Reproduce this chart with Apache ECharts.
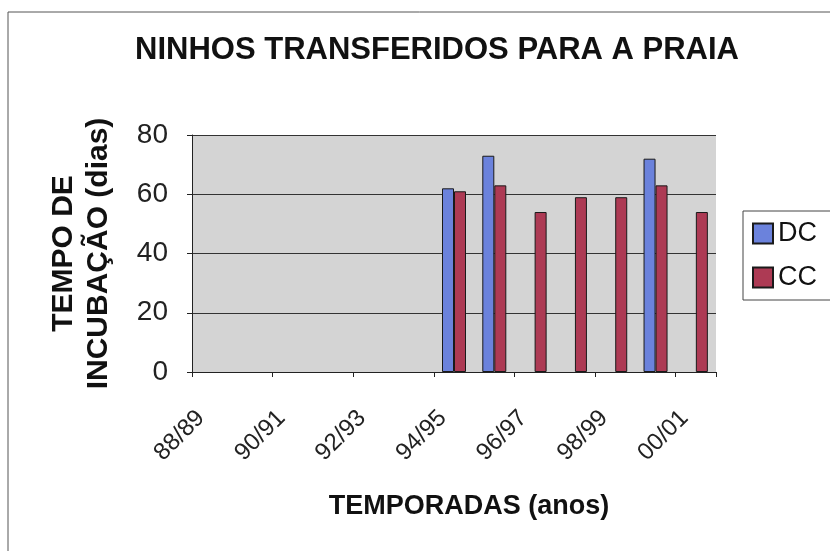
<!DOCTYPE html>
<html>
<head>
<meta charset="utf-8">
<script src="https://cdn.jsdelivr.net/npm/echarts@6/dist/echarts.min.js"></script>
<style>
  html, body { margin: 0; padding: 0; background: #fff; }
  #main { width: 830px; height: 551px; }
</style>
</head>
<body>
<div id="main"></div>
<script>
var chartDom = document.getElementById('main');
var myChart = echarts.init(chartDom);

// seasons (only every other one is labelled on the axis)
const seasons = ['88/89', '89/90', '90/91', '91/92', '92/93', '93/94', '94/95',
  '95/96', '96/97', '97/98', '98/99', '99/00', '00/01'];
const dcValues = [null, null, null, null, null, null, 62, 73, null, null, null, 72, null];
const ccValues = [null, null, null, null, null, null, 61, 63, 54, 59, 59, 63, 54];
const yTicks = [0, 20, 40, 60, 80];

const fontFamily = '"Liberation Sans", Arial, sans-serif';

var option = {
  textStyle: { fontFamily: fontFamily },
  graphic: [
    {
      type: 'rect',
      shape: { x: 8, y: 12, width: 840, height: 560 },
      style: { fill: 'none', stroke: '#555', lineWidth: 1 },
      silent: true
    }
  ],
  title: {
    text: 'NINHOS TRANSFERIDOS PARA A PRAIA',
    left: 432,
    top: 30,
    textAlign: 'center',
    textStyle: { fontSize: 31, fontWeight: 'bold', color: '#111', fontFamily: fontFamily }
  },
  legend: {
    orient: 'vertical',
    left: 743,
    top: 211,
    width: 100,
    padding: [9, 30, 9, 9],
    itemGap: 17,
    itemWidth: 20,
    itemHeight: 20,
    borderColor: '#444',
    borderWidth: 1,
    borderRadius: 0,
    textStyle: { fontSize: 27, color: '#111', fontFamily: fontFamily, padding: [0, 0, 0, 0] },
    data: [
      { name: 'DC', icon: 'rect' },
      { name: 'CC', icon: 'rect' }
    ]
  },
  grid: {
    left: 192,
    right: 830 - 716,
    top: 135,
    bottom: 551 - 372,
    show: true,
    backgroundColor: '#d4d4d4',
    borderWidth: 0
  },
  xAxis: {
    type: 'category',
    data: seasons,
    name: 'TEMPORADAS (anos)',
    nameLocation: 'middle',
    nameGap: 121,
    nameTextStyle: { fontSize: 27, fontWeight: 'bold', color: '#111', padding: [0, 0, 0, 30] },
    axisLine: { lineStyle: { color: '#222', width: 1 } },
    axisTick: { show: true, length: 5, lineStyle: { color: '#222' } },
    axisLabel: {
      interval: 1,
      rotate: 45,
      fontSize: 24,
      color: '#222',
      margin: 31,
      padding: [0, 16, 0, 0]
    },
    splitLine: { show: false }
  },
  yAxis: {
    type: 'value',
    min: yTicks[0],
    max: yTicks[yTicks.length - 1],
    interval: 20,
    name: 'TEMPO DE\nINCUBAÇÃO (dias)',
    nameLocation: 'middle',
    nameRotate: 90,
    nameGap: 76,
    nameTextStyle: { fontSize: 30, fontWeight: 'bold', color: '#111', lineHeight: 35 },
    axisLine: { show: true, lineStyle: { color: '#222', width: 1 } },
    axisTick: { show: true, length: 5, lineStyle: { color: '#222' } },
    axisLabel: { fontSize: 28, color: '#222', margin: 24 },
    splitLine: { show: true, lineStyle: { color: '#333', width: 1 } }
  },
  series: [
    {
      name: 'DC',
      type: 'bar',
      data: dcValues,
      barWidth: 12,
      barGap: '0%',
      itemStyle: { color: '#6b82dc', borderColor: '#1a1a1a', borderWidth: 1 }
    },
    {
      name: 'CC',
      type: 'bar',
      data: ccValues,
      barWidth: 12,
      itemStyle: { color: '#ad3a54', borderColor: '#1a1a1a', borderWidth: 1 }
    }
  ]
};

option && myChart.setOption(option);
</script>
</body>
</html>
